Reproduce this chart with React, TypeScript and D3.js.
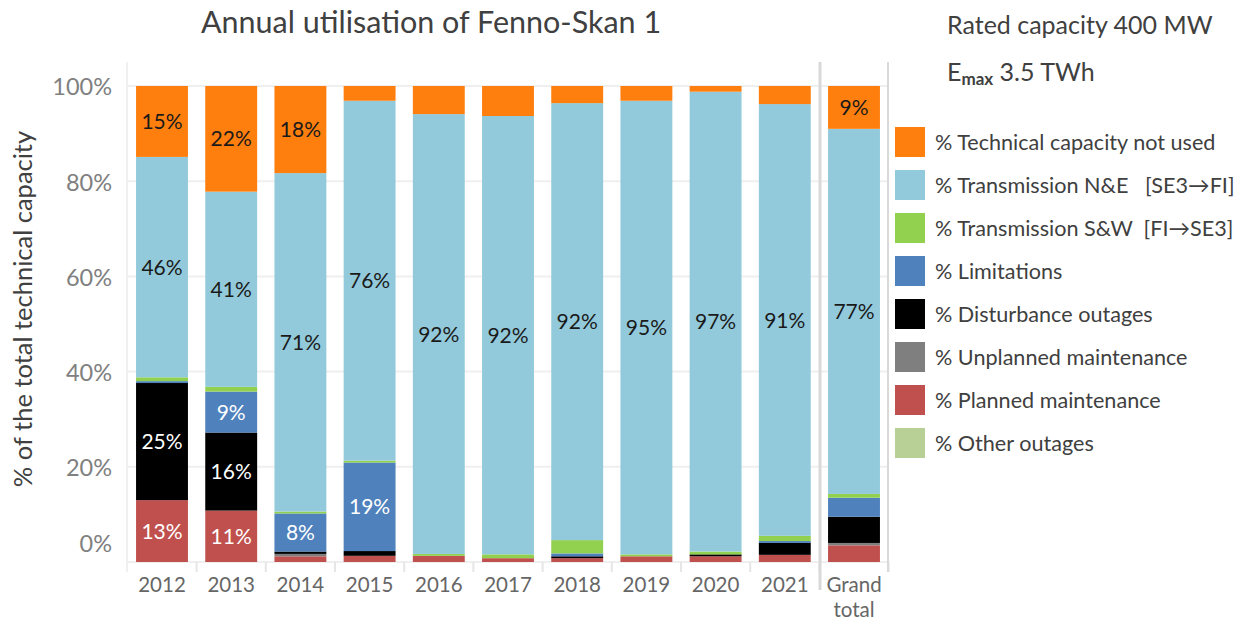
import React from "react";
import * as d3 from "d3";

const categories = ["2012", "2013", "2014", "2015", "2016", "2017", "2018", "2019", "2020", "2021", "Grand total"];
const otherOutages = [0, 0, 0, 0, 0, 0, 0, 0, 0, 0, 0];
const plannedMaint = [13.0, 10.8, 1.2, 1.3, 1.3, 0.8, 0.8, 1.2, 1.2, 1.5, 3.5];
const unplannedMaint = [0, 0, 0.5, 0, 0, 0, 0, 0, 0, 0, 0.5];
const disturbance = [24.6, 16.4, 0.5, 1.0, 0, 0, 0.4, 0, 0.4, 2.5, 5.5];
const limitations = [0.4, 8.6, 8.0, 18.6, 0, 0, 0.6, 0, 0, 0.4, 4.0];
const transSW = [0.8, 1.0, 0.4, 0.4, 0.4, 0.8, 2.8, 0.4, 0.6, 1.1, 0.8];
const transNE = [46.3, 41.0, 71.1, 75.6, 92.4, 92.1, 91.8, 95.3, 96.6, 90.7, 76.7];
const notUsed = [14.9, 22.2, 18.3, 3.1, 5.9, 6.3, 3.6, 3.1, 1.2, 3.8, 9.0];

const yTicks = [0, 20, 40, 60, 80, 100];

const seriesKeys = ["other", "planned", "unplanned", "disturbance", "limitations", "sw", "ne", "notused"];
const seriesNames: Record<string, string> = {
  notused: "% Technical capacity not used",
  ne: "% Transmission N&E   [SE3\u2192FI]",
  sw: "% Transmission S&W  [FI\u2192SE3]",
  limitations: "% Limitations",
  disturbance: "% Disturbance outages",
  unplanned: "% Unplanned maintenance",
  planned: "% Planned maintenance",
  other: "% Other outages",
};
const seriesColors: Record<string, string> = {
  notused: "#ff7f0e",
  ne: "#93cadb",
  sw: "#92d050",
  limitations: "#4f81bd",
  disturbance: "#000000",
  unplanned: "#7f7f7f",
  planned: "#c0504d",
  other: "#b8cf96",
};
const labelColors: Record<string, string> = {
  notused: "#1a1a1a",
  ne: "#1a1a1a",
  sw: "#1a1a1a",
  limitations: "#ffffff",
  disturbance: "#ffffff",
  unplanned: "#ffffff",
  planned: "#ffffff",
  other: "#1a1a1a",
};
const legendOrder = ["notused", "ne", "sw", "limitations", "disturbance", "unplanned", "planned", "other"];

const rows = categories.map((c, i) => ({
  cat: c,
  other: otherOutages[i],
  planned: plannedMaint[i],
  unplanned: unplannedMaint[i],
  disturbance: disturbance[i],
  limitations: limitations[i],
  sw: transSW[i],
  ne: transNE[i],
  notused: notUsed[i],
}));

const FONT = "Lato, 'Open Sans', sans-serif";

export default function App() {
  const W = 1245;
  const H = 625;
  const x = d3.scaleBand<string>().domain(categories).range([127.4, 888.6]).paddingInner(0.25).paddingOuter(0.125);
  const y = d3.scaleLinear().domain([0, 100]).range([562, 86]);
  const stack = d3.stack<any>().keys(seriesKeys);
  const stacked = stack(rows as any);
  const step = x.step();
  const left = x.range()[0];

  return (
    <svg width={W} height={H} style={{ position: "absolute", left: 0, top: 0, background: "#fff" }} fontFamily={FONT}>
      {/* gridlines */}
      {yTicks.map((t) => (
        <line key={"g" + t} x1={127} x2={888} y1={y(t)} y2={y(t)} stroke="#efefef" strokeWidth={2} />
      ))}
      <line x1={127} x2={127} y1={62} y2={572} stroke="#f0f0f0" strokeWidth={2} />
      {categories.map((c, i) => (
        <line key={"t" + i} x1={left + step * (i + 1)} x2={left + step * (i + 1)} y1={562} y2={572} stroke="#e6e6e6" strokeWidth={2} />
      ))}
      {/* bars */}
      {stacked.map((s) => (
        <g key={s.key} fill={seriesColors[s.key]}>
          {s.map((d, i) => {
            const h = y(d[0]) - y(d[1]);
            if (h <= 0) return null;
            return <rect key={i} x={x(categories[i])} y={y(d[1])} width={x.bandwidth()} height={h} />;
          })}
        </g>
      ))}
      {/* labels */}
      {stacked.map((s) => (
        <g key={"l" + s.key}>
          {s.map((d, i) => {
            const v = d[1] - d[0];
            if (v < 7) return null;
            return (
              <text
                key={i}
                x={(x(categories[i]) as number) + x.bandwidth() / 2}
                y={(y(d[0]) + y(d[1])) / 2}
                dy="0.36em"
                textAnchor="middle"
                fontSize={21}
                fill={labelColors[s.key]}
              >
                {Math.round(v) + "%"}
              </text>
            );
          })}
        </g>
      ))}
      {/* separators */}
      <line x1={820} x2={820} y1={62} y2={590} stroke="#d9d9d9" strokeWidth={3} />
      <line x1={888} x2={888} y1={62} y2={572} stroke="#d9d9d9" strokeWidth={2} />
      {/* y ticks */}
      {yTicks.map((t) => (
        <text key={"yt" + t} x={112} y={t === 0 ? y(t) - 18 : y(t) + 1} dy="0.36em" textAnchor="end" fontSize={23.5} fill="#808080">
          {t + "%"}
        </text>
      ))}
      {/* x ticks */}
      {categories.map((c) => {
        const cx = (x(c) as number) + x.bandwidth() / 2;
        const parts = c === "Grand total" ? ["Grand", "total"] : [c];
        return (
          <text key={"xt" + c} x={cx} y={592} textAnchor="middle" fontSize={20.5} fill="#666666">
            {parts.map((p, k) => (
              <tspan key={k} x={cx} dy={k === 0 ? 0 : 25}>
                {p}
              </tspan>
            ))}
          </text>
        );
      })}
      {/* y axis title */}
      <text transform="translate(32,309) rotate(-90)" textAnchor="middle" fontSize={25.5} fill="#404040">
        % of the total technical capacity
      </text>
      {/* title */}
      <text x={431} y={33} textAnchor="middle" fontSize={30.5} fill="#404040">
        Annual utilisation of Fenno-Skan 1
      </text>
      {/* header info */}
      <text x={947} y={34} fontSize={25} fill="#404040">
        Rated capacity 400 MW
      </text>
      <text x={947} y={81} fontSize={25} fill="#404040">
        E<tspan fontSize={17} dy={4} fontWeight="bold">max</tspan>
        <tspan dy={-4}> 3.5 TWh</tspan>
      </text>
      {/* legend */}
      {legendOrder.map((k, i) => (
        <g key={"lg" + k} transform={`translate(895,${127 + i * 43})`}>
          <rect width={30} height={30} fill={seriesColors[k]} />
          <text x={40} y={15} dy="0.36em" fontSize={21.6} fill="#404040" style={{ whiteSpace: "pre" }}>
            {seriesNames[k]}
          </text>
        </g>
      ))}
    </svg>
  );
}
